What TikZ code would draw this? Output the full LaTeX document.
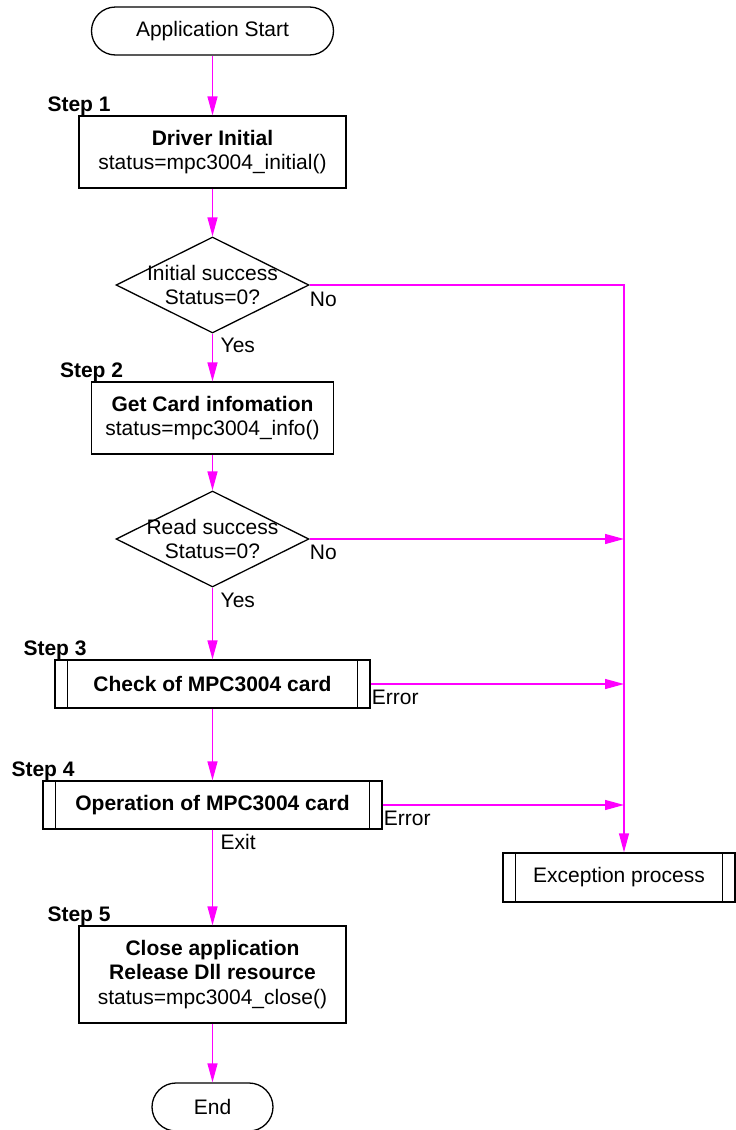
\documentclass[tikz,border=0pt]{standalone}
\usepackage{fontspec}
\setmainfont{Liberation Sans}
\usetikzlibrary{shapes.geometric,arrows.meta,positioning}
\definecolor{flowpink}{RGB}{255,0,255}

\begin{document}
\begin{tikzpicture}[
  x=1pt,y=1pt,font=\fontsize{21}{24.5}\selectfont,
  every node/.style={align=center},
  term/.style={draw,line width=1.3pt,rounded corners=24pt,minimum width=242pt,minimum height=48pt},
  proc/.style={draw,line width=1.3pt,inner sep=0pt},
  subproc/.style={proc,minimum height=48pt,
    path picture={\draw[line width=1.3pt]
      ([xshift=12.5pt]path picture bounding box.north west) -- ([xshift=12.5pt]path picture bounding box.south west)
      ([xshift=-12.5pt]path picture bounding box.north east) -- ([xshift=-12.5pt]path picture bounding box.south east);}},
  decision/.style={draw,line width=1.3pt,diamond,inner sep=0pt,minimum width=193pt,minimum height=96pt},
  flow/.style={draw=flowpink,line width=1.3pt,-{Triangle[length=19pt,width=10pt]}},
  steplbl/.style={anchor=base west,inner sep=0pt,font=\fontsize{21}{24.5}\selectfont\bfseries},
  lbl/.style={anchor=base west,inner sep=0pt}
]
\useasboundingbox (0,0) rectangle (736,-1130);

\node[term] (start) at (212.5,-31) {Application Start};
\node[proc,minimum width=267pt,minimum height=72pt] (init) at (212.5,-152) {\textbf{Driver Initial}\\status=mpc3004\_initial()};
\node[decision,label={center:{Initial success\\Status=0?}}] (chk1) at (212.5,-285) {};
\node[proc,minimum width=242pt,minimum height=72pt] (info) at (212.5,-418) {\textbf{Get Card infomation}\\status=mpc3004\_info()};
\node[decision,label={center:{Read success\\Status=0?}}] (chk2) at (212.5,-539) {};
\node[subproc,minimum width=315pt] (check) at (212.5,-684) {\textbf{Check of MPC3004 card}};
\node[subproc,minimum width=339pt] (oper) at (212.5,-805) {\textbf{Operation of MPC3004 card}};
\node[proc,minimum width=267pt,minimum height=97pt] (close) at (212.5,-974.5) {\textbf{Close application}\\\textbf{Release Dll resource}\\status=mpc3004\_close()};
\node[term,minimum width=121pt] (end) at (212.5,-1107) {End};
\node[subproc,minimum width=232pt,minimum height=49pt] (exc) at (619,-877.5) {Exception process};

\node[steplbl] at ([shift={(-31,4)}]init.north west) {Step 1};
\node[steplbl] at ([shift={(-31,4)}]info.north west) {Step 2};
\node[steplbl] at ([shift={(-31,4)}]check.north west) {Step 3};
\node[steplbl] at ([shift={(-31,4)}]oper.north west) {Step 4};
\node[steplbl] at ([shift={(-31,4)}]close.north west) {Step 5};

\coordinate (busTop) at (624,-285);

\draw[flow] (start) -- (init);
\draw[flow] (init) -- (chk1);
\draw[flow] (chk1) -- (info);
\draw[flow] (info) -- (chk2);
\draw[flow] (chk2) -- (check);
\draw[flow] (check) -- (oper);
\draw[flow] (oper) -- (close);
\draw[flow] (close) -- (end);

\draw[flow] (chk1.east) -- (busTop) -- (busTop |- exc.north);
\draw[flow] (chk2.east) -- (chk2.east -| busTop);
\draw[flow] (check.east) -- (check.east -| busTop);
\draw[flow] (oper.east) -- (oper.east -| busTop);

\node[lbl] at ([shift={(0,-21)}]chk1.east) {No};
\node[lbl] at ([shift={(8,-19)}]chk1.south) {Yes};
\node[lbl] at ([shift={(0,-20)}]chk2.east) {No};
\node[lbl] at ([shift={(8,-20)}]chk2.south) {Yes};
\node[lbl] at ([shift={(1,-20)}]check.east) {Error};
\node[lbl] at ([shift={(1,-20)}]oper.east) {Error};
\node[lbl] at ([shift={(8,-20)}]oper.south) {Exit};
\end{tikzpicture}
\end{document}
